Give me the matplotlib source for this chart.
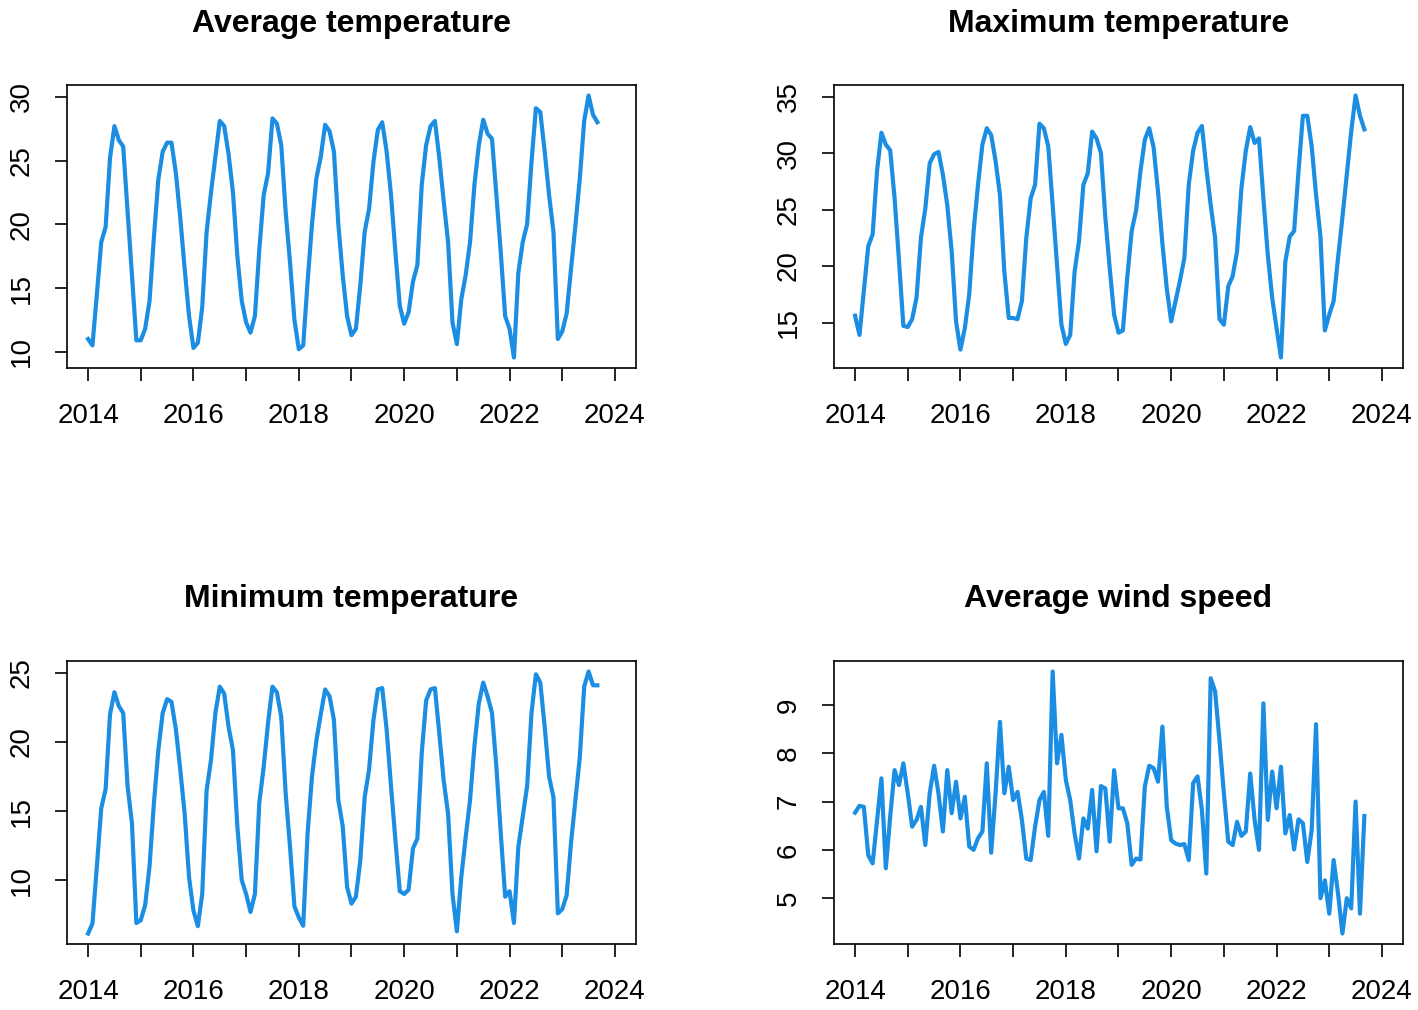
import matplotlib
matplotlib.use("Agg")
import matplotlib.pyplot as plt
import numpy as np

plt.rcParams['font.family'] = ['Liberation Sans', 'DejaVu Sans']

start_year = 2014

avg_temp = [
    11.0, 10.5, 14.5, 18.6, 19.8, 25.2, 27.7, 26.6, 26.1, 21.0, 16.0, 10.9,
    10.9, 11.8, 14.0, 19.0, 23.5, 25.7, 26.4, 26.4, 24.0, 20.5, 16.5, 12.8,
    10.3, 10.7, 13.5, 19.4, 22.5, 25.3, 28.1, 27.7, 25.5, 22.5, 17.5, 14.0,
    12.3, 11.5, 12.8, 18.0, 22.3, 24.0, 28.3, 27.9, 26.2, 21.0, 17.0, 12.5,
    10.2, 10.5, 15.5, 20.0, 23.6, 25.3, 27.8, 27.3, 25.7, 20.0, 16.0, 12.8,
    11.3, 11.8, 15.2, 19.4, 21.2, 24.9, 27.4, 28.0, 25.7, 22.3, 17.8, 13.6,
    12.2, 13.1, 15.5, 16.8, 23.1, 26.2, 27.7, 28.1, 25.2, 21.8, 18.6, 12.3,
    10.6, 14.1, 16.0, 18.6, 23.1, 26.2, 28.2, 27.1, 26.7, 22.3, 17.8, 12.8,
    11.8, 9.55, 16.2, 18.6, 20.0, 24.9, 29.1, 28.8, 25.7, 22.3, 19.4, 11.0,
    11.6, 13.0, 16.5, 19.9, 23.6, 28.1, 30.1, 28.6, 28.0,
]

max_temp = [
    15.6, 13.9, 17.8, 21.75, 22.8, 28.4, 31.8, 30.75, 30.25, 26.0, 20.5, 14.7,
    14.6, 15.3, 17.2, 22.5, 25.1, 29.1, 29.9, 30.1, 28.1, 25.4, 21.3, 15.1,
    12.6, 14.5, 17.5, 23.1, 27.2, 30.75, 32.2, 31.6, 29.3, 26.3, 19.5, 15.4,
    15.4, 15.3, 16.9, 22.5, 26.0, 27.2, 32.6, 32.2, 30.6, 25.4, 20.1, 14.8,
    13.1, 13.9, 19.5, 22.2, 27.2, 28.2, 31.9, 31.3, 30.0, 24.3, 19.8, 15.7,
    14.1, 14.3, 19.0, 23.1, 24.9, 28.4, 31.2, 32.2, 30.5, 26.6, 22.0, 18.0,
    15.1, 16.9, 18.7, 20.7, 27.2, 30.2, 31.8, 32.4, 28.7, 25.4, 22.5, 15.3,
    14.8, 18.2, 19.1, 21.3, 26.9, 30.2, 32.3, 30.9, 31.3, 26.0, 21.0, 17.2,
    14.5, 11.9, 20.4, 22.6, 23.1, 28.4, 33.3, 33.3, 30.6, 26.3, 22.6, 14.3,
    15.7, 16.9, 20.7, 24.3, 28.1, 31.9, 35.1, 33.3, 32.1,
]

min_temp = [
    6.14, 6.86, 11.0, 15.2, 16.6, 22.0, 23.6, 22.6, 22.1, 16.8, 14.1, 6.9,
    7.1, 8.2, 11.0, 15.6, 19.4, 22.1, 23.1, 22.9, 20.9, 18.0, 14.8, 10.2,
    7.8, 6.67, 9.0, 16.5, 18.7, 22.1, 24.0, 23.5, 21.1, 19.4, 13.9, 10.0,
    9.0, 7.7, 9.0, 15.6, 18.2, 21.4, 24.0, 23.6, 21.8, 16.3, 12.4, 8.1,
    7.3, 6.7, 13.4, 17.5, 20.1, 22.0, 23.8, 23.3, 21.6, 15.8, 13.9, 9.5,
    8.3, 8.8, 11.4, 16.0, 18.0, 21.6, 23.8, 23.9, 20.9, 16.8, 12.9, 9.2,
    9.0, 9.3, 12.3, 13.0, 19.2, 23.0, 23.8, 23.9, 20.6, 17.2, 14.8, 9.0,
    6.3, 10.2, 13.1, 15.8, 19.7, 22.8, 24.3, 23.3, 22.1, 18.2, 13.4, 8.8,
    9.2, 6.9, 12.4, 14.6, 16.8, 22.1, 24.9, 24.3, 21.1, 17.5, 16.0, 7.6,
    7.9, 8.9, 12.7, 15.8, 18.9, 24.0, 25.1, 24.1, 24.1,
]

wind_speed = [
    6.77, 6.91, 6.89, 5.89, 5.72, 6.60, 7.48, 5.62, 6.69, 7.65, 7.34, 7.79,
    7.17, 6.48, 6.62, 6.89, 6.10, 7.17, 7.74, 7.17, 6.38, 7.65, 6.76, 7.41,
    6.65, 7.10, 6.07, 6.00, 6.24, 6.38, 7.79, 5.94, 7.17, 8.65, 7.17, 7.72,
    7.03, 7.20, 6.62, 5.82, 5.79, 6.48, 7.03, 7.20, 6.29, 9.69, 7.79, 8.38,
    7.45, 7.03, 6.34, 5.82, 6.65, 6.44, 7.24, 5.97, 7.32, 7.27, 6.17, 7.65,
    6.86, 6.86, 6.55, 5.69, 5.82, 5.80, 7.31, 7.74, 7.69, 7.41, 8.55, 6.89,
    6.20, 6.13, 6.10, 6.12, 5.79, 7.38, 7.52, 6.82, 5.51, 9.55, 9.28, 8.27,
    7.17, 6.17, 6.10, 6.58, 6.29, 6.38, 7.58, 6.62, 6.00, 9.03, 6.62, 7.62,
    6.86, 7.72, 6.34, 6.72, 6.01, 6.63, 6.55, 5.75, 6.41, 8.60, 5.00, 5.37,
    4.68, 5.79, 5.10, 4.27, 5.00, 4.79, 7.00, 4.68, 6.70,
]

titles = ["Average temperature", "Maximum temperature",
          "Minimum temperature", "Average wind speed"]
x_ticks = list(range(2014, 2025))
x_tick_labels = [str(y) if y % 2 == 0 else "" for y in x_ticks]
y_ticks_avg = [10, 15, 20, 25, 30]
y_ticks_max = [15, 20, 25, 30, 35]
y_ticks_min = [10, 15, 20, 25]
y_ticks_wind = [5, 6, 7, 8, 9]

series = [avg_temp, max_temp, min_temp, wind_speed]
yticks = [y_ticks_avg, y_ticks_max, y_ticks_min, y_ticks_wind]

W, H = 1418, 1010
fig = plt.figure(figsize=(W / 100, H / 100), dpi=100)

# axes boxes in pixels: (left, top, width, height)
boxes = [(67, 85, 569, 283), (834, 85, 569, 283),
         (67, 661, 569, 283), (834, 661, 569, 283)]
title_baselines = [32, 607]
line_color = "#1B8EE3"

for k, (vals, title, yt, box) in enumerate(zip(series, titles, yticks, boxes)):
    l, t, w, h = box
    ax = fig.add_axes([l / W, 1 - (t + h) / H, w / W, h / H])
    n = len(vals)
    tt = start_year + np.arange(n) / 12.0
    ax.plot(tt, vals, color=line_color, lw=3.0, solid_joinstyle="round")
    ax.set_xlim(2013.6, 2024.4)
    lo, hi = min(vals), max(vals)
    ext = 0.04 * (hi - lo)
    ax.set_ylim(lo - ext, hi + ext)
    ax.set_xticks(x_ticks)
    ax.set_xticklabels(x_tick_labels)
    ax.set_yticks(yt)
    ax.set_yticklabels([str(v) for v in yt], rotation=90, va="center")
    ax.tick_params(axis="x", length=9, width=1.2, labelsize=20, pad=16)
    ax.tick_params(axis="y", length=9, width=1.2, labelsize=20, pad=14)
    for sp in ax.spines.values():
        sp.set_linewidth(1.2)
    cx = (l + w / 2) / W
    fig.text(cx, 1 - title_baselines[k // 2] / H, title, ha="center",
             va="baseline", fontsize=23, fontweight="bold")

fig.savefig("out.png", dpi=100)
